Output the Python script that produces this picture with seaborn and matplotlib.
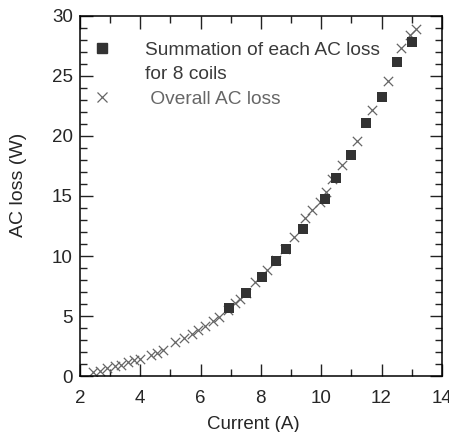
import matplotlib
matplotlib.use("Agg")
import matplotlib.pyplot as plt
import seaborn as sns
import pandas as pd
from matplotlib.lines import Line2D
from matplotlib.ticker import MultipleLocator

sns.set_style("ticks")
plt.rcParams["font.family"] = ["Liberation Sans", "DejaVu Sans"]

# === Data ===
sum_current = [6.94, 7.51, 8.05, 8.49, 8.82, 9.41, 10.11, 10.48, 10.99, 11.50, 12.01, 12.51, 13.00]
sum_loss = [5.64, 6.94, 8.28, 9.56, 10.58, 12.25, 14.72, 16.53, 18.42, 21.08, 23.22, 26.19, 27.86]

overall_current = [2.45, 2.65, 2.9, 3.15, 3.35, 3.6, 3.8, 4.0, 4.35, 4.55, 4.75, 5.15, 5.45,
                   5.7, 5.9, 6.15, 6.4, 6.6, 6.9, 7.15, 7.3, 7.5, 7.8, 8.2, 8.5, 8.8, 9.1,
                   9.45, 9.7, 9.95, 10.15, 10.35, 10.7, 11.2, 11.7, 12.2, 12.65, 12.95, 13.15]
overall_loss = [0.35, 0.45, 0.65, 0.8, 0.95, 1.15, 1.35, 1.45, 1.75, 1.95, 2.15, 2.8, 3.2,
                3.5, 3.8, 4.2, 4.6, 4.95, 5.5, 6.1, 6.4, 6.9, 7.8, 8.85, 9.7, 10.6, 11.6,
                13.2, 13.8, 14.5, 15.3, 16.4, 17.6, 19.6, 22.2, 24.6, 27.3, 28.4, 28.9]

df_sum = pd.DataFrame({"Current": sum_current, "Loss": sum_loss})
df_all = pd.DataFrame({"Current": overall_current, "Loss": overall_loss})

fig = plt.figure(figsize=(4.49, 4.32), dpi=100)
ax = fig.add_axes([0.178, 0.1296, 0.806, 0.8334])

sns.scatterplot(data=df_all, x="Current", y="Loss", marker="x", s=45,
                color="#666666", linewidth=0.9, ax=ax, zorder=2)
sns.scatterplot(data=df_sum, x="Current", y="Loss", marker="s", s=58,
                color="#333333", edgecolor="#333333", linewidth=0, ax=ax, zorder=3)

ax.set_xlim(2, 14)
ax.set_ylim(0, 30)
ax.xaxis.set_major_locator(MultipleLocator(2))
ax.xaxis.set_minor_locator(MultipleLocator(1))
ax.yaxis.set_major_locator(MultipleLocator(5))
ax.yaxis.set_minor_locator(MultipleLocator(1))
ax.tick_params(which="both", direction="in", top=True, right=True, width=1.0,
               color="#222222", labelsize=13.5)
ax.tick_params(axis="x", which="major", pad=10)
ax.tick_params(axis="y", which="major", pad=5)
ax.tick_params(which="major", length=9)
ax.tick_params(which="minor", length=5)
for sp in ax.spines.values():
    sp.set_linewidth(1.1)
    sp.set_color("black")

ax.set_xlabel("Current (A)", fontsize=13.5)
ax.set_ylabel("AC loss (W)", fontsize=14)
ax.xaxis.set_label_coords(0.478, -0.112)
ax.yaxis.set_label_coords(-0.147, 0.53)

handles = [
    Line2D([], [], linestyle="none", marker="s", markersize=7.8, color="#333333"),
    Line2D([], [], linestyle="none"),
    Line2D([], [], linestyle="none", marker="x", markersize=7.5, markeredgewidth=0.9, color="#666666"),
]
labels = ["Summation of each AC loss", "for 8 coils", " Overall AC loss"]
leg = ax.legend(handles, labels, loc="upper left", frameon=False, fontsize=13.8,
                handlelength=2.0, handletextpad=1.25, labelspacing=0.38,
                borderaxespad=0.0, borderpad=0.0, bbox_to_anchor=(0.007, 0.93))
for t, c in zip(leg.get_texts(), ["#3a3a3a", "#3a3a3a", "#666666"]):
    t.set_color(c)

fig.savefig("out.png", dpi=100)
